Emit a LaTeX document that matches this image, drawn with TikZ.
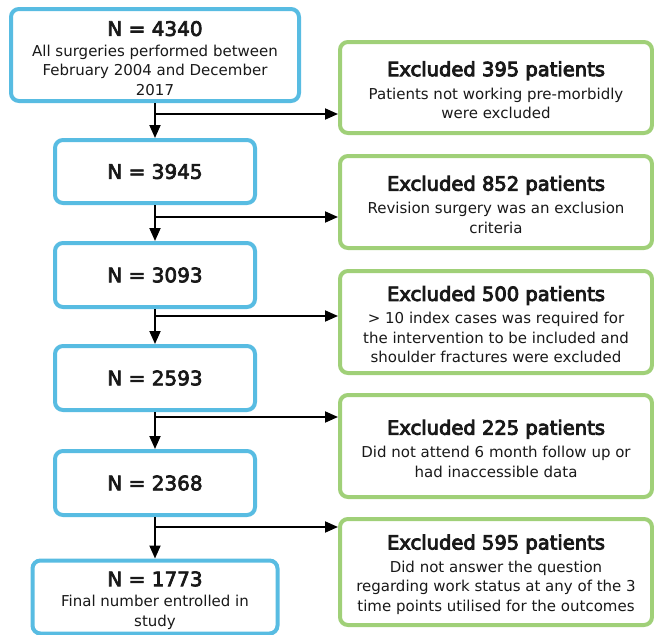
\documentclass[tikz,border=0pt]{standalone}
\usepackage{fontspec}
\setmainfont{DejaVu Sans}
\newfontfamily\medfont[FakeBold=3.5]{DejaVu Sans}
\newfontfamily\semifont[FakeBold=4.5]{DejaVu Sans}
\usetikzlibrary{arrows.meta}
\definecolor{bluebox}{RGB}{88,188,226}
\definecolor{greenbox}{RGB}{160,208,120}
\definecolor{ink}{RGB}{25,25,25}
\newcommand{\ttl}[1]{{\medfont\fontsize{20}{24}\selectfont\rule{0pt}{21.5pt}#1}\\[1pt]}
\newcommand{\ttb}[1]{{\semifont\fontsize{19.5}{24}\selectfont\rule{0pt}{20pt}#1}\\[3.5pt]}
\begin{document}
\begin{tikzpicture}[x=1pt,y=-1pt,
  bbox/.style={draw=bluebox,line width=4pt,rounded corners=8pt,fill=white,align=center,
    text=ink,inner sep=0pt,font=\fontsize{15}{19.5}\selectfont},
  gbox/.style={draw=greenbox,line width=4pt,rounded corners=8pt,fill=white,align=center,
    text=ink,inner sep=0pt,minimum width=312pt,font=\fontsize{15}{19.5}\selectfont},
  ntitle/.style={font=\medfont\fontsize{20}{24}\selectfont},
  arr/.style={draw=black,line width=1.9pt,-{Triangle[length=13pt,width=11pt]}}]
\useasboundingbox (0,0) rectangle (654,635);
\fill[white] (0,0) rectangle (654,635);
% blue chain
\node[bbox,minimum width=288pt,minimum height=92pt] (n1) at (155,55)
  {\ttl{N = 4340}All surgeries performed between\\February 2004 and December\\2017};
\node[bbox,ntitle,minimum width=200pt,minimum height=63pt] (n2) at (155,171.5) {N = 3945};
\node[bbox,ntitle,minimum width=200pt,minimum height=64pt] (n3) at (155,275) {N = 3093};
\node[bbox,ntitle,minimum width=200pt,minimum height=64pt] (n4) at (155,378) {N = 2593};
\node[bbox,ntitle,minimum width=200pt,minimum height=64pt] (n5) at (155,483) {N = 2368};
\node[bbox,minimum width=245pt,minimum height=73pt] (n6) at (155,597)
  {\ttl{N = 1773}Final number entrolled in\\study};
% green exclusions
\node[gbox,minimum height=91pt] (e1) at (496,87.5)
  {\ttb{Excluded 395 patients}Patients not working pre-morbidly\\were excluded};
\node[gbox,minimum height=92pt] (e2) at (496,202)
  {\ttb{Excluded 852 patients}Revision surgery was an exclusion\\criteria};
\node[gbox,minimum height=102pt] (e3) at (496,322)
  {\ttb{Excluded 500 patients}> 10 index cases was required for\\the intervention to be included and\\shoulder fractures were excluded};
\node[gbox,minimum height=102pt] (e4) at (496,446)
  {\ttb{Excluded 225 patients}Did not attend 6 month follow up or\\had inaccessible data};
\node[gbox,minimum height=106pt] (e5) at (496,572)
  {\ttb{Excluded 595 patients}Did not answer the question\\regarding work status at any of the 3\\time points utilised for the outcomes};
% branch points
\coordinate (b1) at (155,114);
\coordinate (b2) at (155,217);
\coordinate (b3) at (155,316);
\coordinate (b4) at (155,417);
\coordinate (b5) at (155,527);
% vertical arrows
\draw[arr] (n1.south) -- (n2.north);
\draw[arr] (n2.south) -- (n3.north);
\draw[arr] (n3.south) -- (n4.north);
\draw[arr] (n4.south) -- (n5.north);
\draw[arr] (n5.south) -- (n6.north);
% side arrows
\draw[arr] (b1) -- (b1 -| e1.west);
\draw[arr] (b2) -- (b2 -| e2.west);
\draw[arr] (b3) -- (b3 -| e3.west);
\draw[arr] (b4) -- (b4 -| e4.west);
\draw[arr] (b5) -- (b5 -| e5.west);
\end{tikzpicture}
\end{document}
